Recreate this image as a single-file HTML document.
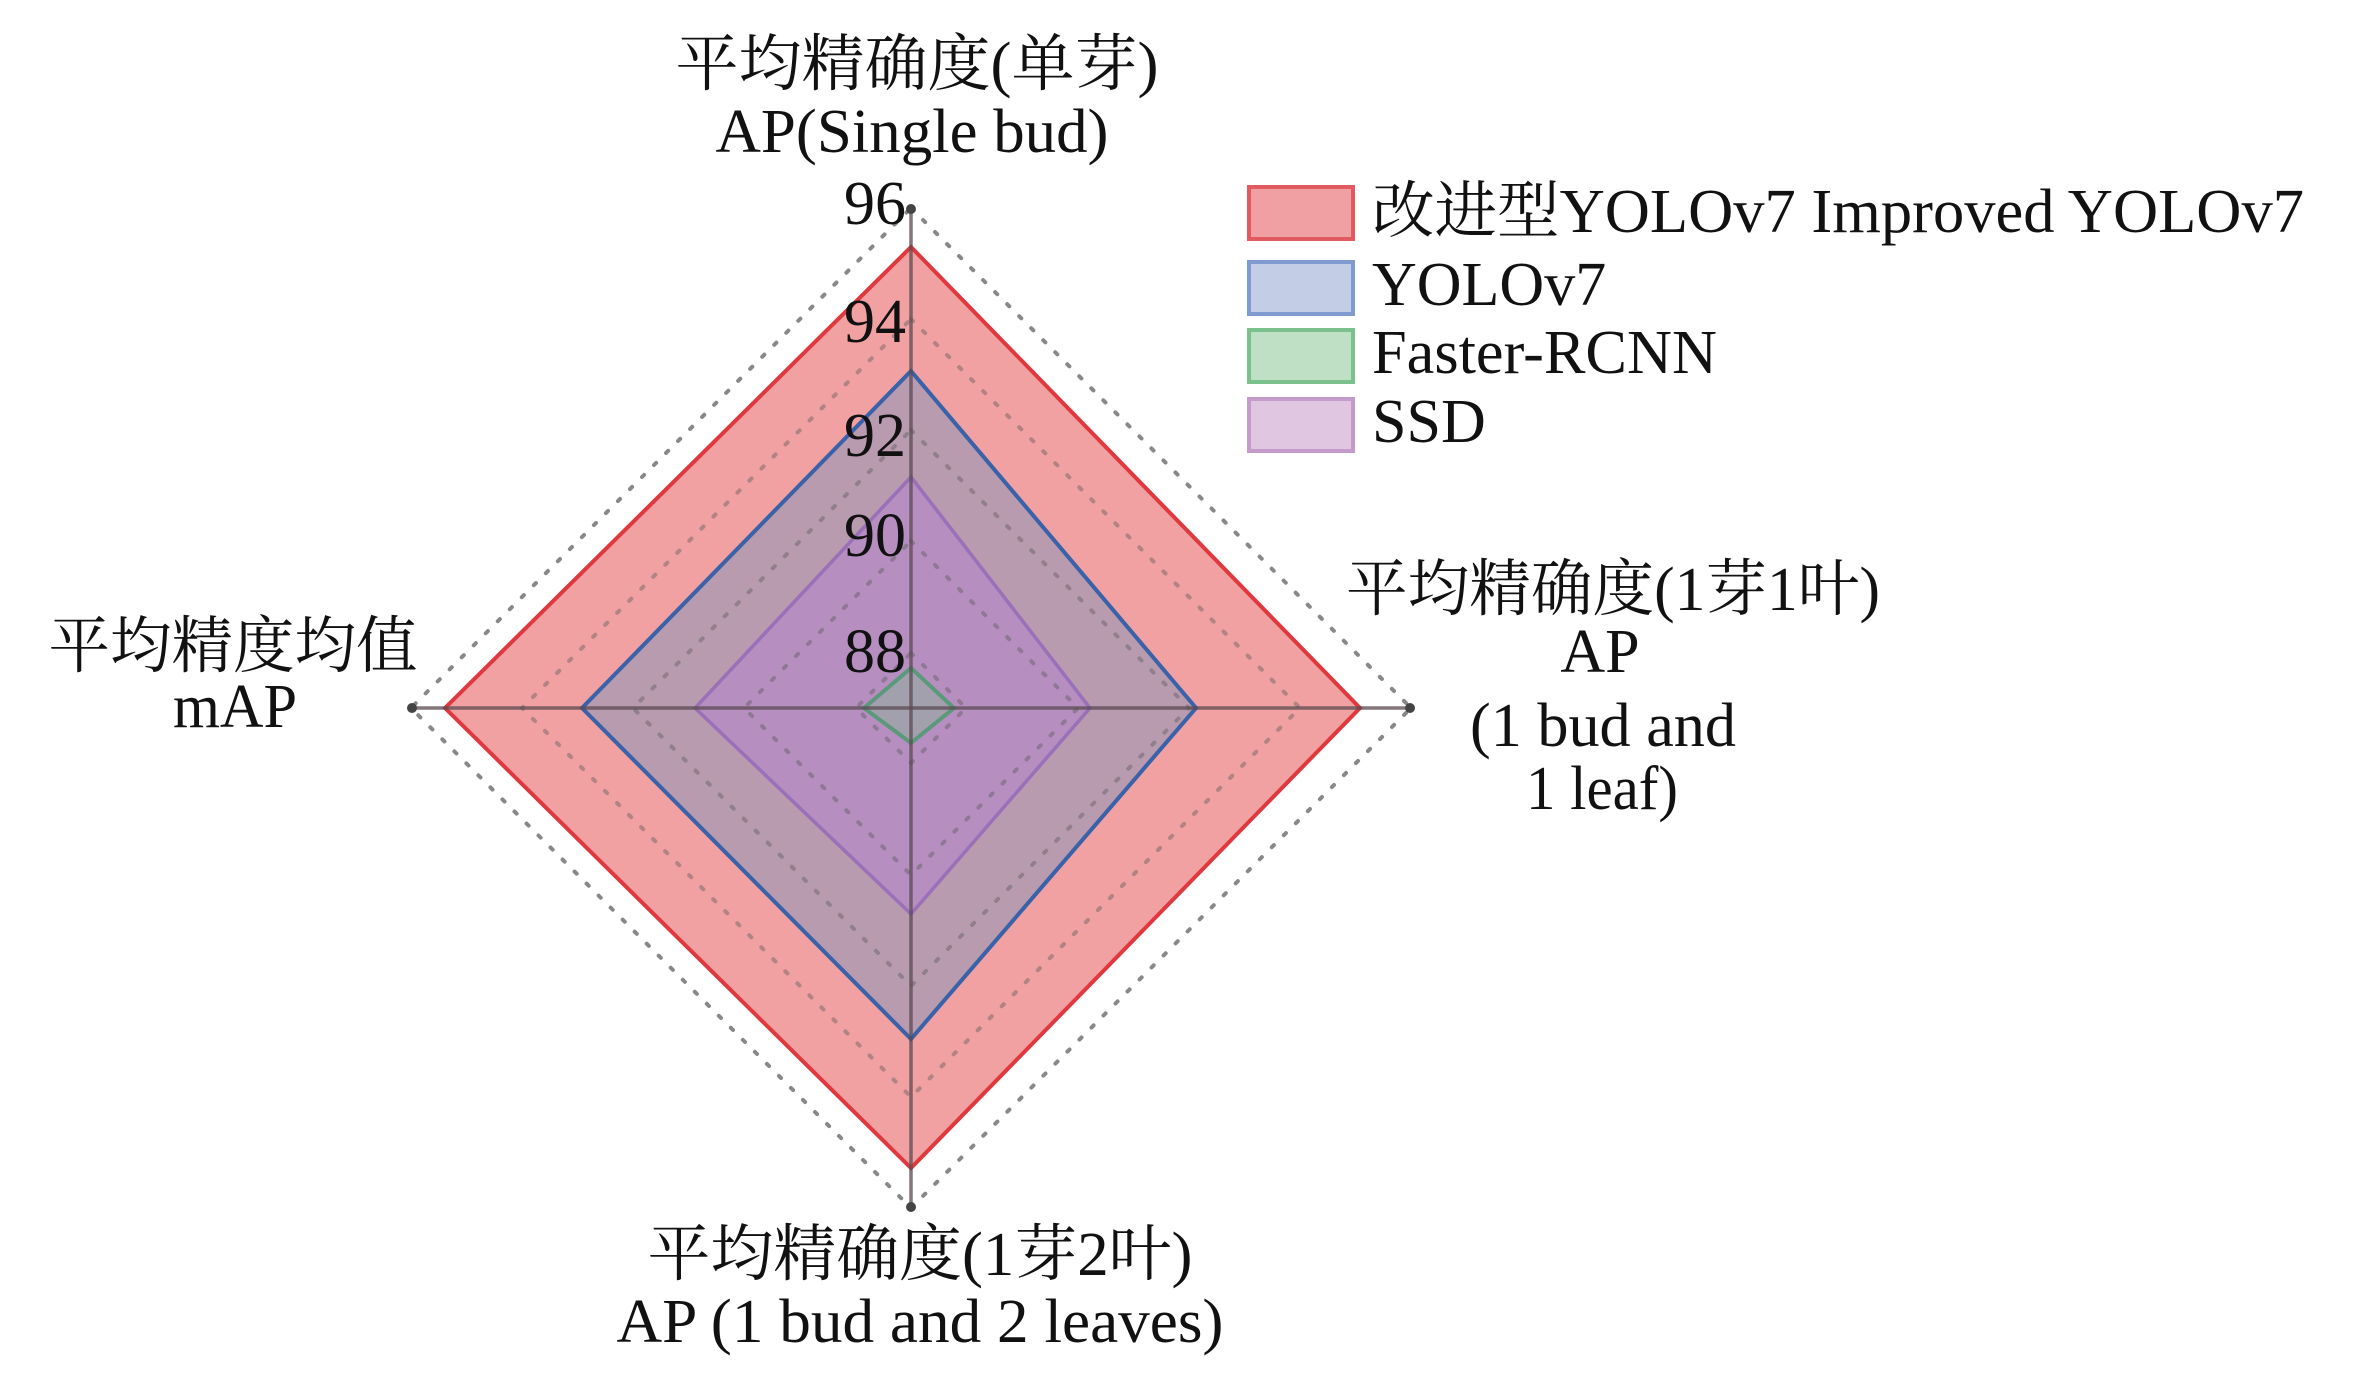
<!DOCTYPE html>
<html><head><meta charset="utf-8"><style>
html,body{margin:0;padding:0;background:#fff;}
svg{display:block;}
text{font-family:"Liberation Serif","Noto Serif CJK SC","Noto Sans CJK SC",serif;fill:#111;font-size:62px;}
</style></head><body>
<svg width="2362" height="1393" viewBox="0 0 2362 1393" xmlns="http://www.w3.org/2000/svg">
<polygon points="911,247 1360,708 911,1168 445,708" fill="#f2a1a2" stroke="#e0383f" stroke-width="4"/>
<polygon points="911,371 1196,708 911,1039 582,708" fill="#b99bb0" stroke="#3a62a8" stroke-width="4"/>
<polygon points="911,477 1090,708 911,914 695,708" fill="#b68fc0" stroke="#9a70b8" stroke-width="3.5"/>
<polygon points="911,668 954,708 911,743 864,708" fill="#a3a0ae" stroke="#5a9a7a" stroke-width="4"/>
<g fill="none" stroke="#555" stroke-opacity="0.7" stroke-width="4" stroke-dasharray="3 14" stroke-linecap="round">
<polygon points="911,208 1411,708 911,1208 411,708"/>
<polygon points="911,319 1300,708 911,1097 522,708" stroke-opacity="0.4"/>
<polygon points="911,430 1189,708 911,986 633,708" stroke-opacity="0.4"/>
<polygon points="911,541 1078,708 911,875 744,708" stroke-opacity="0.4"/>
<polygon points="911,653 966,708 911,763 856,708" stroke-opacity="0.4"/>
</g>
<g stroke="#5a4a50" stroke-opacity="0.75" stroke-width="3.5">
<line x1="911" y1="208" x2="911" y2="1208"/>
<line x1="411" y1="708" x2="1411" y2="708"/>
</g>
<g fill="#444">
<circle cx="911" cy="209" r="5"/><circle cx="911" cy="1207" r="5"/>
<circle cx="412" cy="708" r="5"/><circle cx="1410" cy="708" r="5"/>
</g>
<g text-anchor="end">
<text x="906" y="224">96</text>
<text x="906" y="342">94</text>
<text x="906" y="456">92</text>
<text x="906" y="556">90</text>
<text x="906" y="672">88</text>
</g>
<g text-anchor="middle">
<text x="917" y="85" textLength="483" lengthAdjust="spacingAndGlyphs">平均精确度(单芽)</text>
<text x="912" y="152" textLength="393" lengthAdjust="spacingAndGlyphs">AP(Single bud)</text>
<text x="233" y="667" textLength="369" lengthAdjust="spacingAndGlyphs">平均精度均值</text>
<text x="235" y="727" textLength="124" lengthAdjust="spacingAndGlyphs">mAP</text>
<text x="1613" y="610" textLength="534" lengthAdjust="spacingAndGlyphs">平均精确度(1芽1叶)</text>
<text x="1600" y="672">AP</text>
<text x="1603" y="746" textLength="266" lengthAdjust="spacingAndGlyphs">(1 bud and</text>
<text x="1602" y="809" textLength="152" lengthAdjust="spacingAndGlyphs">1 leaf)</text>
<text x="920" y="1275" textLength="545" lengthAdjust="spacingAndGlyphs">平均精确度(1芽2叶)</text>
<text x="920" y="1342" textLength="607" lengthAdjust="spacingAndGlyphs">AP (1 bud and 2 leaves)</text>
</g>
<rect x="1249" y="187" width="104" height="52" fill="#f0a0a2" stroke="#e05a60" stroke-width="4"/>
<rect x="1249" y="262" width="104" height="52" fill="#c3cde6" stroke="#7f9bd0" stroke-width="4"/>
<rect x="1249" y="330" width="104" height="52" fill="#c0e0c6" stroke="#7cc08e" stroke-width="4"/>
<rect x="1249" y="399" width="104" height="52" fill="#e0c6e0" stroke="#c49ccc" stroke-width="4"/>
<text x="1372" y="232" textLength="932" lengthAdjust="spacingAndGlyphs">改进型YOLOv7 Improved YOLOv7</text>
<text x="1372" y="305">YOLOv7</text>
<text x="1372" y="373" textLength="345" lengthAdjust="spacingAndGlyphs">Faster-RCNN</text>
<text x="1372" y="442">SSD</text>
</svg>
</body></html>
